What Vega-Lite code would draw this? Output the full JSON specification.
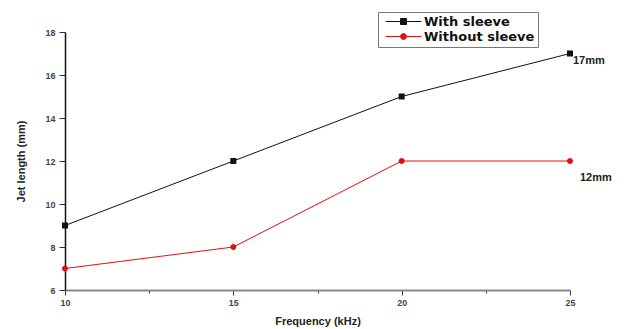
{
  "$schema": "https://vega.github.io/schema/vega-lite/v6.json",
  "autosize": {"type": "none"},
  "padding": {"left": 65, "top": 32, "right": 63, "bottom": 39},
  "width": 505,
  "height": 258,
  "background": "white",
  "config": {
    "view": {"stroke": null},
    "font": "Liberation Sans"
  },
  "datasets": {
    "series": [
      {"freq": 10, "len": 9, "cond": "With sleeve"},
      {"freq": 15, "len": 12, "cond": "With sleeve"},
      {"freq": 20, "len": 15, "cond": "With sleeve"},
      {"freq": 25, "len": 17, "cond": "With sleeve"},
      {"freq": 10, "len": 7, "cond": "Without sleeve"},
      {"freq": 15, "len": 8, "cond": "Without sleeve"},
      {"freq": 20, "len": 12, "cond": "Without sleeve"},
      {"freq": 25, "len": 12, "cond": "Without sleeve"}
    ],
    "notes": [
      {"freq": 25, "len": 16.65, "label": "17mm"},
      {"freq": 25, "len": 11.2, "label": "12mm"}
    ]
  },
  "layer": [
    {
      "data": {"name": "series"},
      "mark": {"type": "line", "strokeWidth": 1},
      "encoding": {
        "x": {
          "field": "freq", "type": "quantitative",
          "scale": {"domain": [10, 25], "nice": false},
          "axis": {
            "title": "Frequency (kHz)",
            "values": [10, 12.5, 15, 17.5, 20, 22.5, 25],
            "labelExpr": "datum.value % 5 === 0 ? datum.label : ''",
            "labelFlush": false,
            "grid": false,
            "domainColor": "#888", "domainWidth": 2,
            "tickColor": "#333",
            "tickSize": {"condition": {"test": "datum.value % 5 === 0", "value": 5}, "value": 3},
            "labelFont": "Liberation Sans", "labelFontSize": 9, "labelColor": "#444", "labelFontWeight": "bold",
            "labelPadding": 3,
            "titleFont": "Liberation Sans", "titleFontSize": 11, "titleFontWeight": "bold", "titleColor": "#222",
            "titlePadding": 8
          }
        },
        "y": {
          "field": "len", "type": "quantitative",
          "scale": {"domain": [6, 18], "nice": false, "zero": false},
          "axis": {
            "title": "Jet length (mm)",
            "values": [6, 7, 8, 9, 10, 11, 12, 13, 14, 15, 16, 17, 18],
            "labelExpr": "datum.value % 2 === 0 ? datum.label : ''",
            "grid": false,
            "domainColor": "#111", "domainWidth": 1.5,
            "tickColor": "#333",
            "tickSize": {"condition": {"test": "datum.value % 2 === 0", "value": 6}, "value": 3},
            "labelFont": "Liberation Sans", "labelFontSize": 9, "labelColor": "#444", "labelFontWeight": "bold",
            "labelPadding": 4,
            "titleFont": "Liberation Sans", "titleFontSize": 11, "titleFontWeight": "bold", "titleColor": "#222",
            "titlePadding": 18
          }
        },
        "color": {
          "field": "cond", "type": "nominal",
          "scale": {"domain": ["With sleeve", "Without sleeve"], "range": ["#111111", "#e01010"]}
        }
      }
    },
    {
      "data": {"name": "series"},
      "mark": {"type": "point", "filled": true, "size": 36, "opacity": 1, "strokeWidth": 0},
      "encoding": {
        "x": {"field": "freq", "type": "quantitative"},
        "y": {"field": "len", "type": "quantitative"},
        "color": {
          "field": "cond", "type": "nominal",
          "legend": {
            "title": null,
            "orient": "none",
            "legendX": 313,
            "legendY": -20,
            "symbolSize": 36,
            "symbolStrokeWidth": 1,
            "symbolOffset": 16,
            "labelFont": "DejaVu Sans",
            "labelFontSize": 13,
            "labelFontWeight": "bold",
            "labelColor": "#111",
            "labelOffset": 14,
            "rowPadding": 1,
            "padding": 3,
            "strokeColor": "#777",
            "fillColor": "white",
            "encode": {
              "symbols": {"update": {"stroke": {"signal": "datum.value === 'With sleeve' ? '#111' : '#e01010'"}, "strokeWidth": {"value": 1}}}
            }
          }
        },
        "shape": {
          "field": "cond", "type": "nominal",
          "scale": {
            "domain": ["With sleeve", "Without sleeve"],
            "range": ["M-6,0H6M-1,-1H1V1H-1Z", "M-6,0H6M1,0A1,1,0,1,1,-1,0A1,1,0,1,1,1,0Z"]
          }
        }
      }
    },
    {
      "data": {"name": "notes"},
      "transform": [{"filter": "datum.label === '17mm'"}],
      "mark": {"type": "text", "align": "left", "baseline": "middle", "dx": 3, "font": "Liberation Sans", "fontSize": 11, "fontWeight": "bold", "color": "#222"},
      "encoding": {
        "x": {"field": "freq", "type": "quantitative"},
        "y": {"field": "len", "type": "quantitative"},
        "text": {"field": "label"}
      }
    },
    {
      "data": {"name": "notes"},
      "transform": [{"filter": "datum.label === '12mm'"}],
      "mark": {"type": "text", "align": "left", "baseline": "middle", "dx": 10, "font": "Liberation Sans", "fontSize": 11, "fontWeight": "bold", "color": "#222"},
      "encoding": {
        "x": {"field": "freq", "type": "quantitative"},
        "y": {"field": "len", "type": "quantitative"},
        "text": {"field": "label"}
      }
    }
  ]
}
